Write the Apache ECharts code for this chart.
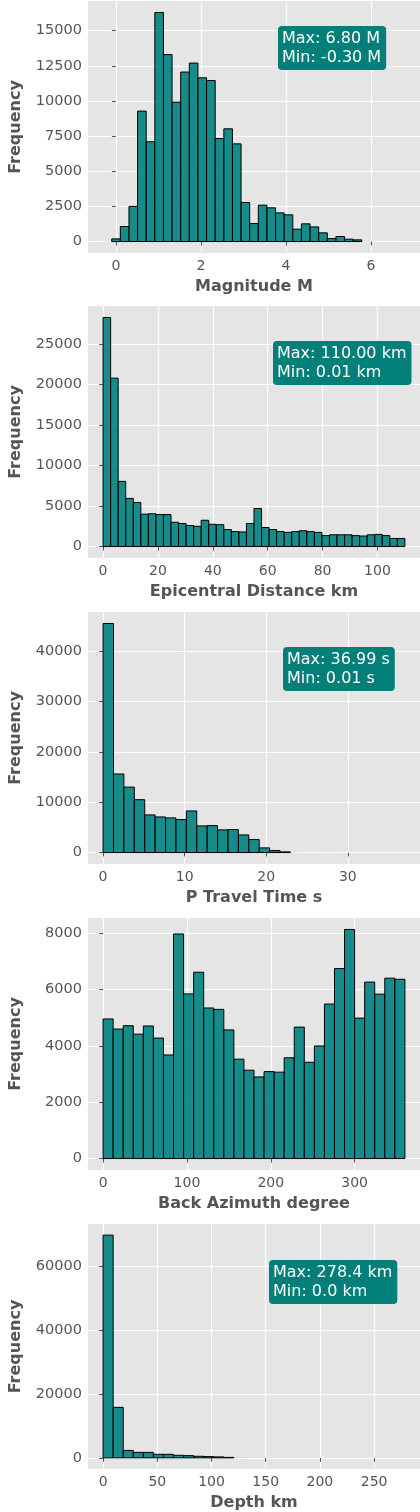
<!DOCTYPE html>
<html><head><meta charset="utf-8">
<script src="https://cdn.jsdelivr.net/npm/echarts@6/dist/echarts.min.js"></script>
<style>html,body{margin:0;padding:0;background:#fff}#c{width:420px;height:1512px}</style>
</head><body><div id="c"></div>
<script>
// Histogram counts per bin
const magnitudeCounts = [20,190,1070,2500,9280,7100,16300,13300,9920,12060,12700,11650,11460,7330,8020,6950,2780,1280,2590,2400,2040,1900,880,1260,1040,620,210,360,170,120,40,15,8,5,2];
const distanceCounts = [28300,20800,8050,5950,5450,4000,4050,3950,3950,3000,2850,2600,2500,3250,2750,2700,2100,1850,1800,2850,4700,2350,2100,1850,1750,1850,1950,1850,1750,1350,1450,1450,1450,1350,1300,1450,1500,1350,1000,1000];
const travelCounts = [45500,15600,13000,10500,7470,7070,6880,6550,8260,5290,5350,4500,4560,3500,2580,925,400,130,50,25,15,10,6,4,3,2,1,1,1];
const azimuthCounts = [4960,4600,4720,4420,4710,4280,3680,7980,5850,6620,5350,5300,4570,3530,3140,2900,3090,3070,3580,4670,3420,4000,5490,6750,8140,4990,6270,5840,6410,6370];
const depthCounts = [69700,15800,2330,1720,1720,1110,1110,800,700,500,400,300,150,80,50,30,20,10,6,4,3,2,1,1,1,0,0,0,0,1];
// data ranges (min, max)
const dataRanges = [[-0.3,6.8],[0.01,110],[0.01,36.99],[0,360],[0,278.4]];
const xTicks = [[0,2,4,6],[0,20,40,60,80,100],[0,10,20,30],[0,100,200,300],[0,50,100,150,200,250]];
const yTicks = [[0,2500,5000,7500,10000,12500,15000],[0,5000,10000,15000,20000,25000],[0,10000,20000,30000,40000],[0,2000,4000,6000,8000],[0,20000,40000,60000]];
const xTitles = ['Magnitude M','Epicentral Distance km','P Travel Time s','Back Azimuth degree','Depth km'];
const boxTexts = ['Max: 6.80 M\nMin: -0.30 M','Max: 110.00 km\nMin: 0.01 km','Max: 36.99 s\nMin: 0.01 s',null,'Max: 278.4 km\nMin: 0.0 km'];

const allCounts = [magnitudeCounts,distanceCounts,travelCounts,azimuthCounts,depthCounts];
const boxPos = [[278,26],[273,341],[283,647],null,[269,1260]];
const tops = [1,306,612,918,1224];
const H = 252;
const FONT = 'DejaVu Sans';
const grids=[],xAxes=[],yAxes=[],series=[],graphics=[];
allCounts.forEach((counts,p)=>{
  const [lo,hi] = dataRanges[p];
  const w = (hi-lo)/counts.length;
  const span = hi-lo;
  const cmax = Math.max(...counts);
  grids.push({left:79,right:0,top:tops[p],height:H,backgroundColor:'#e5e5e5',show:true,borderWidth:0});
  xAxes.push({type:'value',gridIndex:p,min:lo-0.05*span,max:hi+0.05*span,
    axisLine:{show:false},
    axisTick:{show:true,length:4,lineStyle:{color:'#555'},customValues:xTicks[p]},
    axisLabel:{customValues:xTicks[p],color:'#555',fontSize:14,fontFamily:FONT,margin:6,formatter:v=>String(v)},
    splitLine:{show:true,lineStyle:{color:'#fff',width:1.2}},
    name:xTitles[p],nameLocation:'middle',nameGap:26,
    nameTextStyle:{color:'#555',fontSize:16,fontWeight:'bold',fontFamily:FONT}});
  yAxes.push({type:'value',gridIndex:p,min:-0.05*cmax,max:1.05*cmax,
    axisLine:{show:false},
    axisTick:{show:true,length:4,lineStyle:{color:'#555'},customValues:yTicks[p]},
    axisLabel:{customValues:yTicks[p],color:'#555',fontSize:14.5,fontFamily:FONT,margin:6,formatter:v=>String(v)},
    splitLine:{show:true,lineStyle:{color:'#fff',width:1.2}},
    name:'Frequency',nameLocation:'middle',nameGap:64,
    nameTextStyle:{color:'#555',fontSize:16,fontWeight:'bold',fontFamily:FONT}});
  series.push({type:'custom',xAxisIndex:p,yAxisIndex:p,
    data:counts.map((c,i)=>[lo+i*w,lo+(i+1)*w,c]),
    encode:{x:[0,1],y:2},
    renderItem:(params,api)=>{
      const a=api.coord([api.value(0),api.value(2)]);
      const b=api.coord([api.value(1),0]);
      const big=api.value(2)>=100;
      return {type:'rect',shape:{x:a[0],y:a[1],width:b[0]-a[0],height:b[1]-a[1]},
        style:{fill:big?'rgba(0,128,128,0.9)':'rgba(0,128,128,0.25)',stroke:big?'#000':'none',lineWidth:1}};
    }});
  if(boxTexts[p]){
    graphics.push({type:'text',left:boxPos[p][0],top:boxPos[p][1],z:100,
      style:{text:boxTexts[p],fill:'#fff',font:'16px '+FONT,lineHeight:19,
        backgroundColor:'#037f7a',padding:[3,5,3,4],borderRadius:4}});
  }
});
const chart = echarts.init(document.getElementById('c'),null,{renderer:'canvas'});
chart.setOption({animation:false,grid:grids,xAxis:xAxes,yAxis:yAxes,series:series,graphic:graphics});
</script></body></html>
